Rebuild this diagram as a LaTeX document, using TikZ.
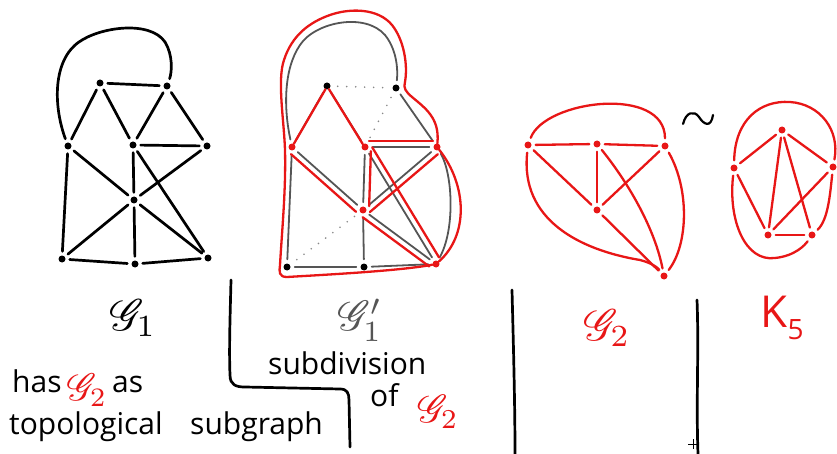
\documentclass[tikz,border=0pt]{standalone}
\usepackage{fontspec}
\setmainfont{Open Sans}
\usepackage{mathrsfs}
\usetikzlibrary{calc}
\definecolor{hred}{RGB}{232,22,22}
\definecolor{hgray}{RGB}{85,85,85}
\tikzset{
  blk/.style={line width=2.7pt, line cap=round, line join=round, black},
  gry/.style={line width=1.8pt, line cap=round, line join=round, hgray},
  redl/.style={line width=2.3pt, line cap=round, line join=round, hred},
  bdot/.style={circle, fill=black, inner sep=0pt, minimum size=7pt},
  rdot/.style={circle, fill=hred, inner sep=0pt, minimum size=7pt},
  gap/.style={shorten <=4pt, shorten >=4pt},
  dotl/.style={line width=1.8pt, hgray!70, dash pattern=on 0pt off 9pt, line cap=round},
  txt/.style={inner sep=0pt, anchor=base west, font=\fontsize{30}{34}\selectfont},
}
\newcommand\offL[3][6pt]{\draw[redl,gap] ($(#2)!#1!90:(#3)$) -- ($(#3)!#1!-90:(#2)$);}
\newcommand\offR[3][6pt]{\draw[redl,gap] ($(#2)!#1!-90:(#3)$) -- ($(#3)!#1!90:(#2)$);}
\begin{document}
\begin{tikzpicture}[x=1pt,y=-1pt]
\useasboundingbox (0,0) rectangle (837,454);
% ---------------- G1
\node[bdot] (ga) at (100,83) {};
\node[bdot] (gb) at (167,86) {};
\node[bdot] (gc) at (68,146) {};
\node[bdot] (gd) at (133,145) {};
\node[bdot] (ge) at (207,146) {};
\node[bdot] (gf) at (134,200) {};
\node[bdot] (gg) at (62,259) {};
\node[bdot] (gh) at (135,264) {};
\node[bdot] (gi) at (208,258) {};
\foreach \a/\b in {ga/gb,ga/gc,ga/gd,gb/gd,gb/ge,gd/ge,gc/gf,gd/gf,ge/gf,gd/gi,gc/gg,gf/gg,gf/gh,gf/gi,gg/gh,gh/gi}
  \draw[blk,gap] (\a) -- (\b);
\draw[blk,gap] (gc) .. controls (53,105) and (53,60) .. (79,42)
  .. controls (100,27) and (150,20) .. (165,42)
  .. controls (173,55) and (172,72) .. (gb);
% ---------------- G1'
\node[bdot] (pa) at (327,86) {};
\node[bdot] (pb) at (396,88) {};
\node[rdot] (pc) at (292,147) {};
\node[rdot] (pd) at (365,147) {};
\node[rdot] (pe) at (437,147) {};
\node[rdot] (pf) at (363,210) {};
\node[bdot] (pg) at (287,267) {};
\node[bdot] (ph) at (364,267) {};
\node[rdot] (pi) at (436,264) {};
\foreach \a/\b in {pa/pc,pa/pd,pb/pe,pd/pe,pc/pf,pd/pf,pd/pi,pe/pf,pf/pi,pc/pg,pg/ph,ph/pi,pf/ph}
  \draw[gry,gap] (\a) -- (\b);
\foreach \a/\b in {pa/pb,pb/pd,pf/pg}
  \draw[dotl,shorten <=7pt,shorten >=7pt] (\a) -- (\b);
\draw[gry,gap] (pe) .. controls (453,175) and (455,230) .. (pi);
\draw[gry,gap] (pc) .. controls (284,110) and (283,70) .. (300,45)
  .. controls (315,22) and (365,12) .. (385,35)
  .. controls (397,50) and (398,70) .. (pb);
% red highlights
\draw[redl] ([shift={(7,-2)}]pc) -- ([shift={(0,11)}]pa) -- ([shift={(-7.5,-2.5)}]pd);
\offL{pd}{pe}
\offR{pc}{pf}
\offL{pd}{pf}
\offL{pe}{pf}
\offL{pd}{pi}
\offR{pf}{pi}
\draw[redl] ([shift={(8,-5)}]pe) .. controls (467,185) and (469,235) .. ([shift={(5,2)}]pi);
\draw[redl] ([shift={(-4,5)}]pi) .. controls (400,271) and (320,275) .. (287,277)
  .. controls (279,277) and (279,272) .. (280,265)
  .. controls (282,230) and (286,190) .. (285,150)
  .. controls (284,120) and (277,80) .. (284,60)
  .. controls (292,35) and (310,22) .. (330,15)
  .. controls (350,8) and (378,8) .. (392,25)
  .. controls (404,40) and (408,65) .. (405,82)
  .. controls (403,88) and (406,92) .. (412,97)
  .. controls (425,108) and (440,118) .. ([shift={(3,-8)}]pe);
% ---------------- G2
\node[rdot] (qL) at (528,145) {};
\node[rdot] (qM) at (597,144) {};
\node[rdot] (qR) at (665,146) {};
\node[rdot] (qF) at (597,210) {};
\node[rdot] (qB) at (664,276) {};
\foreach \a/\b in {qL/qM,qM/qR,qL/qF,qM/qF,qR/qF,qF/qB}
  \draw[redl,gap] (\a) -- (\b);
\draw[redl,gap] (qM) .. controls (630,185) and (655,230) .. (qB);
\draw[redl,gap] (qL) .. controls (545,100) and (665,85) .. (qR);
\draw[redl,gap] (qL) .. controls (520,220) and (580,250) .. (640,260)
  .. controls (652,263) and (658,268) .. (qB);
\draw[redl,gap] (qR) .. controls (690,190) and (688,245) .. (qB);
% tilde
\draw[blk,line width=2.2pt] (683,124) .. controls (686,112) and (694,110) .. (699,117)
  .. controls (704,125) and (711,128) .. (713,115);
% ---------------- K5
\node[rdot] (kT) at (782,130) {};
\node[rdot] (kL) at (734,168) {};
\node[rdot] (kR) at (833,167) {};
\node[rdot] (kBL) at (768,235) {};
\node[rdot] (kBR) at (812,235) {};
\foreach \a/\b in {kT/kL,kT/kR,kT/kBL,kT/kBR,kL/kBL,kR/kBL,kBL/kBR}
  \draw[redl,gap] (\a) -- (\b);
\draw[redl,gap] (kL) .. controls (735,120) and (760,100) .. (790,102)
  .. controls (820,104) and (840,130) .. (kR);
\draw[redl,gap] (kR) .. controls (830,195) and (828,220) .. (kBR);
\draw[redl,gap] (kL) .. controls (728,220) and (745,262) .. (775,258)
  .. controls (795,256) and (805,245) .. (kBR);
% ---------------- separators
\draw[blk] (231,280) .. controls (230,320) and (229,350) .. (230,375)
  .. controls (230,385) and (236,387) .. (245,387) -- (340,389)
  .. controls (347,389) and (349,393) .. (349,400) -- (350,447);
\draw[blk] (512,290) .. controls (513,330) and (515,400) .. (515,454);
\draw[blk] (697,300) .. controls (699,350) and (696,400) .. (698,454);
\draw[line width=0.7pt] (688,444) -- (698,444) (693,439) -- (693,449);
% ---------------- labels
\node (l1) at (133,318) {\scalebox{4.4}{$\mathscr{G}_1$}};
\node[text=hgray] (l2) at (360,320) {\scalebox{4.2}{$\mathscr{G}'_1$}};
\node[text=hred] (l3) at (607,328) {\scalebox{4.4}{$\mathscr{G}_2$}};
\node[text=hred,inner sep=0pt] (l4) at (782,318) {{\fontsize{44}{44}\selectfont K}{\fontsize{28}{28}\selectfont\raisebox{-12pt}{5}}};
\node[txt] (t1) at (12,392) {has};
\node[text=hred,inner sep=0pt] (t2) at (87,390) {\scalebox{3.8}{$\mathscr{G}_2$}};
\node[txt] (t3) at (112,392) {as};
\node[txt] (t4) at (9,434) {topological};
\node[txt] (t5) at (190,434) {subgraph};
\node[txt] (t6) at (268,374) {subdivision};
\node[txt] (t7) at (370,406) {of};
\node[text=hred,inner sep=0pt] (t8) at (438,412) {\scalebox{3.9}{$\mathscr{G}_2$}};
\end{tikzpicture}
\end{document}
